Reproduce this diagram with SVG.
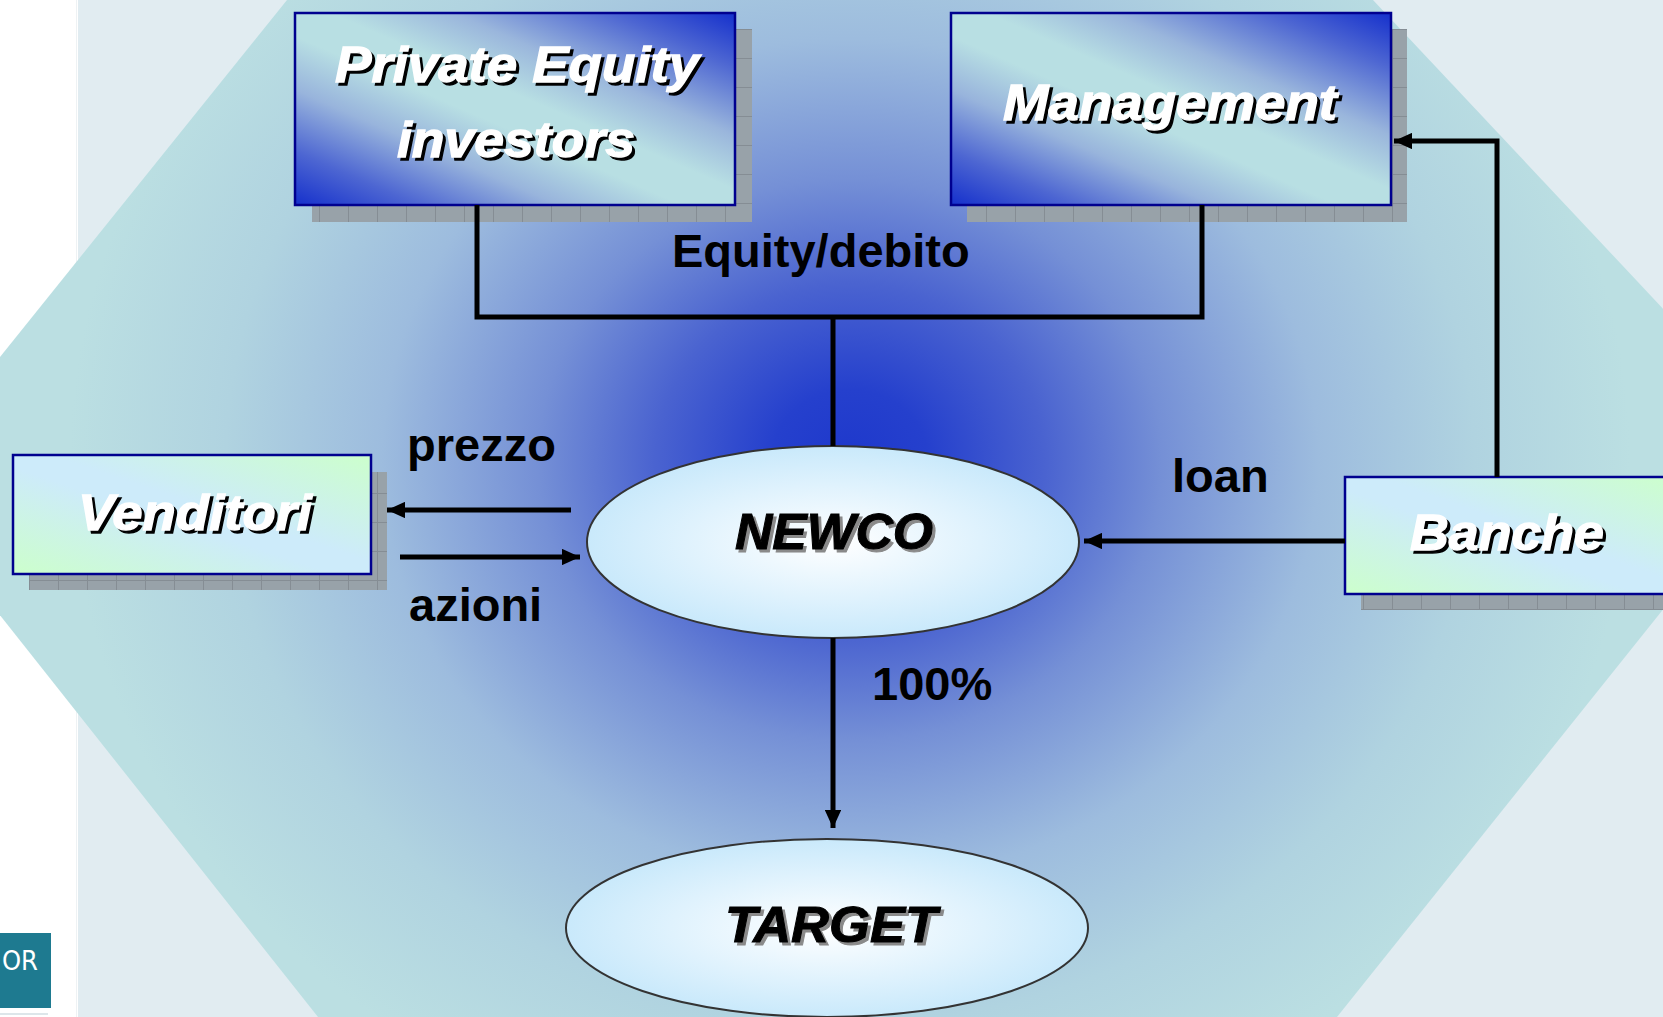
<svg xmlns="http://www.w3.org/2000/svg" width="1663" height="1017" viewBox="0 0 1663 1017">
<defs>
<style>
.bl{font-family:"Liberation Sans",Arial,sans-serif;font-weight:bold;font-style:italic;font-size:50px;text-anchor:middle}
.wt{fill:#ffffff;stroke:#ffffff;stroke-width:1.3}
.sh{fill:#000000;stroke:#000000;stroke-width:1.3}
.el-t{font-family:"Liberation Sans",Arial,sans-serif;font-weight:bold;font-style:italic;font-size:50px;text-anchor:middle;fill:#000;stroke:#000;stroke-width:1}
.el-s{font-family:"Liberation Sans",Arial,sans-serif;font-weight:bold;font-style:italic;font-size:50px;text-anchor:middle;fill:#8a8a8a;stroke:#8a8a8a;stroke-width:1}
.lbl{font-family:"Liberation Sans",Arial,sans-serif;font-weight:bold;font-size:47px;fill:#000}
.conn{fill:none;stroke:#000;stroke-width:5}
.box{stroke:#00008f;stroke-width:2.5}
.shadow{fill:url(#grid)}
.ell{fill:url(#ellGrad);stroke:#333;stroke-width:2}
</style>
<radialGradient id="bgGrad" gradientUnits="userSpaceOnUse" cx="850" cy="460" r="780" gradientTransform="translate(850 460) scale(1 0.9) translate(-850 -460)">
<stop offset="0" stop-color="#1e38cc"/>
<stop offset="0.1" stop-color="#2540cd"/>
<stop offset="0.25" stop-color="#4a63d0"/>
<stop offset="0.4" stop-color="#7590d6"/>
<stop offset="0.6" stop-color="#9dbcde"/>
<stop offset="0.8" stop-color="#b0d3e0"/>
<stop offset="1" stop-color="#bbdfe2"/>
</radialGradient>
<linearGradient id="darkBox" x1="1" y1="0" x2="0" y2="1">
<stop offset="0" stop-color="#1530cc"/>
<stop offset="0.14" stop-color="#4d66d2"/>
<stop offset="0.32" stop-color="#9ab6dc"/>
<stop offset="0.46" stop-color="#b8dfe3"/>
<stop offset="0.56" stop-color="#b8dfe3"/>
<stop offset="0.7" stop-color="#98b4dc"/>
<stop offset="0.86" stop-color="#4d66d2"/>
<stop offset="1" stop-color="#1530cc"/>
</linearGradient>
<linearGradient id="lightBox" x1="1" y1="0" x2="0" y2="1">
<stop offset="0" stop-color="#ccffcc"/>
<stop offset="0.45" stop-color="#cdebfa"/>
<stop offset="0.55" stop-color="#cdebfa"/>
<stop offset="1" stop-color="#ccffcc"/>
</linearGradient>
<radialGradient id="ellGrad" cx="0.5" cy="0.5" r="0.5">
<stop offset="0" stop-color="#ffffff"/>
<stop offset="0.6" stop-color="#dff2fd"/>
<stop offset="1" stop-color="#c9e9fb"/>
</radialGradient>
<pattern id="grid" patternUnits="userSpaceOnUse" width="29" height="29">
<rect width="29" height="29" fill="#98a2a9"/>
<path d="M0.5 0V29M0 0.5H29" stroke="#858d94" stroke-width="1"/>
</pattern>
<marker id="arr" viewBox="0 0 11 10" refX="11" refY="5" markerWidth="3.6" markerHeight="3.3" orient="auto" markerUnits="strokeWidth">
<path d="M0 0L11 5L0 10Z" fill="#000"/>
</marker>
</defs>

<rect x="0" y="0" width="1663" height="1017" fill="#ffffff"/>
<rect x="76" y="0" width="1" height="1017" fill="#eef2f4"/>
<rect x="78" y="0" width="1585" height="1017" fill="#e1ecf1"/>
<polygon points="287,0 1373,0 1793,447 1337,1017 318,1017 -103,485" fill="url(#bgGrad)"/>

<g id="logo">
<rect x="0" y="933" width="51" height="75" fill="#1e7a90"/>
<text x="2" y="970" font-family="'DejaVu Sans Condensed','Liberation Sans',sans-serif" font-size="27" fill="#ffffff">OR</text>
<rect x="0" y="1013" width="48" height="2" fill="#dde6ea"/>
</g>

<g id="node-pe">
<rect class="shadow" x="312" y="29" width="440" height="193"/>
<rect class="box" x="295" y="13" width="440" height="192" fill="url(#darkBox)"/>
<text class="bl sh" x="520" y="85" textLength="364" lengthAdjust="spacingAndGlyphs">Private Equity</text>
<text class="bl wt" x="517" y="82" textLength="364" lengthAdjust="spacingAndGlyphs">Private Equity</text>
<text class="bl sh" x="519" y="160" textLength="238" lengthAdjust="spacingAndGlyphs">investors</text>
<text class="bl wt" x="516" y="157" textLength="238" lengthAdjust="spacingAndGlyphs">investors</text>
</g>

<g id="node-management">
<rect class="shadow" x="967" y="29" width="440" height="193"/>
<rect class="box" x="951" y="13" width="440" height="192" fill="url(#darkBox)"/>
<text class="bl sh" x="1173" y="123" textLength="334" lengthAdjust="spacingAndGlyphs">Management</text>
<text class="bl wt" x="1170" y="120" textLength="334" lengthAdjust="spacingAndGlyphs">Management</text>
</g>

<g id="node-venditori">
<rect class="shadow" x="29" y="472" width="358" height="118"/>
<rect class="box" x="13" y="455" width="358" height="119" fill="url(#lightBox)"/>
<text class="bl sh" x="198" y="533" textLength="234" lengthAdjust="spacingAndGlyphs">Venditori</text>
<text class="bl wt" x="195" y="530" textLength="234" lengthAdjust="spacingAndGlyphs">Venditori</text>
</g>

<g id="node-banche">
<rect class="shadow" x="1361" y="494" width="320" height="116"/>
<rect class="box" x="1345" y="477" width="330" height="117" fill="url(#lightBox)"/>
<text class="bl sh" x="1510" y="553" textLength="194" lengthAdjust="spacingAndGlyphs">Banche</text>
<text class="bl wt" x="1507" y="550" textLength="194" lengthAdjust="spacingAndGlyphs">Banche</text>
</g>

<g id="node-newco">
<ellipse class="ell" cx="833" cy="542" rx="246" ry="96"/>
<text class="el-s" x="837" y="552" textLength="198" lengthAdjust="spacingAndGlyphs">NEWCO</text>
<text class="el-t" x="834" y="549" textLength="198" lengthAdjust="spacingAndGlyphs">NEWCO</text>
</g>

<g id="node-target">
<ellipse class="ell" cx="827" cy="928" rx="261" ry="89"/>
<text class="el-s" x="834" y="945" textLength="212" lengthAdjust="spacingAndGlyphs">TARGET</text>
<text class="el-t" x="831" y="942" textLength="212" lengthAdjust="spacingAndGlyphs">TARGET</text>
</g>

<g id="connectors">
<path class="conn" d="M477 205V317H1202V205"/>
<path class="conn" d="M833 317V446"/>
<path class="conn" d="M1497 477V141H1394" marker-end="url(#arr)"/>
<path class="conn" d="M1345 541H1084" marker-end="url(#arr)"/>
<path class="conn" d="M571 510H387" marker-end="url(#arr)"/>
<path class="conn" d="M400 557H580" marker-end="url(#arr)"/>
<path class="conn" d="M833 638V828" marker-end="url(#arr)"/>
<text class="lbl" x="672" y="267">Equity/debito</text>
<text class="lbl" x="407" y="461">prezzo</text>
<text class="lbl" x="409" y="621">azioni</text>
<text class="lbl" x="1172" y="492">loan</text>
<text class="lbl" x="872" y="700">100%</text>
</g>
</svg>
